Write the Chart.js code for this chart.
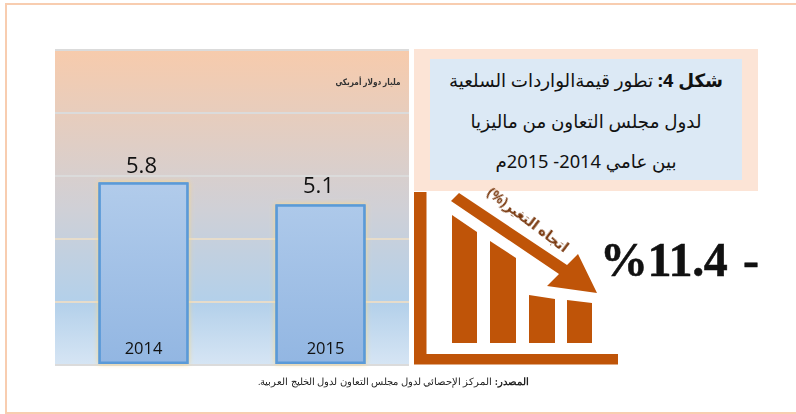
<!DOCTYPE html>
<html lang="ar"><head><meta charset="utf-8">
<style>
html,body{margin:0;padding:0;background:#fff;width:796px;height:414px;overflow:hidden}
#frame{position:absolute;left:5px;top:3px;right:0;height:407px;border-left:2px solid #f8cdb0;border-top:2px solid #f8cdb0;border-bottom:2px solid #f8cdb0}
#wrap{position:absolute;left:0;top:0;width:796px;height:414px}
#panel{position:absolute;left:414px;top:49px;width:344px;height:142px;background:#fce4d6}
#inner{position:absolute;left:430px;top:59px;width:312px;height:121px;background:#dce9f5;color:#111;
 font-family:"Noto Sans","Open Sans","DejaVu Sans",sans-serif;font-size:18.3px;direction:rtl;text-align:center}
#inner div{position:absolute;left:0;right:0;line-height:26px;white-space:nowrap}
#pct{position:absolute;left:600px;top:232px;width:170px;direction:ltr;white-space:pre;font-family:"Liberation Serif",serif;font-weight:bold;font-size:48px;line-height:56px;color:#111;word-spacing:4px;letter-spacing:-.4px;-webkit-text-stroke:.5px #111}
#src{position:absolute;left:200px;width:329px;top:376px;text-align:right;direction:rtl;font-family:"Liberation Serif","Noto Sans",serif;font-size:9.7px;color:#222;white-space:nowrap}
svg{position:absolute;left:0;top:0}
</style></head><body>
<div id="wrap"><canvas id="c" width="796" height="414" style="width:796px;height:414px;display:block"></canvas></div>
<div id="frame"></div>
<div id="panel"></div>
<div id="inner">
 <div style="top:8px"><b>شكل 4:</b> تطور قيمةالواردات السلعية</div>
 <div style="top:49px">لدول مجلس التعاون من ماليزيا</div>
 <div style="top:89px">بين عامي 2014- 2015م</div>
</div>
<svg width="796" height="414" viewBox="0 0 796 414">
 <g fill="#bf5408">
  <path d="M414 192H426.500V354H618V364.500H414Z"/>
  <path d="M452 215L477 232V343H452Z"/>
  <path d="M490 241L516 258V343H490Z"/>
  <path d="M529 295L555 299V343H529Z"/>
  <path d="M567 300L592 303V343H567Z"/>
  <path d="M459 193L451 201L559 274L547 286L597 293L578 254L567 265Z"/>
 </g>
 <text transform="translate(564,253) rotate(37)" text-anchor="start" direction="rtl" font-family="Noto Sans,DejaVu Sans,sans-serif" font-size="14" font-weight="bold" fill="#7a3a10">اتجاه التغير(%)</text>
</svg>
<div id="pct">%11.4 -</div>
<div id="src"><b>المصدر:</b> المركز الإحصائي لدول مجلس التعاون لدول الخليج العربية.</div>
<script src="https://cdn.jsdelivr.net/npm/chart.js@4"></script>
<script>
const categories=["2014","2015"];
const seriesValues=[5.8,5.1];
const tickValues=[0,2,4,6,8,10];
const unitLabel="مليار دولار أمريكي";

const deco={id:'deco',
 beforeDraw(ch){const {ctx,chartArea:a}=ch;
  const g=ctx.createLinearGradient(0,a.top,0,a.bottom);
  g.addColorStop(0,'#f7cbac');g.addColorStop(.5,'#d0d0d6');g.addColorStop(.8,'#b3d0ea');g.addColorStop(1,'#d6e5f4');
  ctx.fillStyle=g;ctx.fillRect(a.left,a.top,a.right-a.left,a.bottom-a.top);},
 beforeDatasetDraw(ch){const c=ch.ctx;c.save();c.shadowColor='rgba(255,215,120,.8)';c.shadowBlur=5;c.fillStyle='#5a9ad8';
  ch.getDatasetMeta(0).data.forEach(b=>{const w=b.width;c.fillRect(b.x-w/2,b.y,w,b.base-b.y);});c.restore();},
 afterDatasetsDraw(ch){const {ctx,chartArea:a}=ch;const m=ch.getDatasetMeta(0).data;
  ctx.save();ctx.textAlign='center';ctx.textBaseline='middle';ctx.fillStyle='#111';
  ctx.font='16.5px "Open Sans","Noto Sans",sans-serif';
  ctx.fillText(categories[0],m[0].x,a.bottom-16);
  ctx.fillText(categories[1],m[1].x+5,a.bottom-16);
  ctx.font='22px "Open Sans","Noto Sans",sans-serif';
  ctx.fillText(seriesValues[0].toFixed(1),m[0].x-2,m[0].y-16);
  ctx.fillText(seriesValues[1].toFixed(1),m[1].x-2,m[1].y-18);
  ctx.translate(368,82);ctx.scale(.83,1);
  ctx.font='bold 8.8px "Noto Sans","DejaVu Sans",sans-serif';ctx.fillStyle='#333';ctx.direction='rtl';
  ctx.fillText(unitLabel,0,0);
  ctx.restore();}};
new Chart(document.getElementById('c'),{type:'bar',
 data:{labels:categories,datasets:[{data:seriesValues,
  backgroundColor(ctx){const a=ctx.chart.chartArea;if(!a)return '#a8c4e6';
   const g=ctx.chart.ctx.createLinearGradient(0,a.top+130,0,a.bottom);g.addColorStop(0,'#b2cceb');g.addColorStop(1,'#92b6e2');return g;},
  borderColor:'#5a9ad8',borderWidth:2.5,borderSkipped:false,barPercentage:.51,categoryPercentage:1}]},
 options:{responsive:false,animation:false,
  layout:{padding:{left:55,top:50,right:387,bottom:49}},
  plugins:{legend:{display:false},tooltip:{enabled:false}},
  scales:{x:{display:false},
   y:{min:tickValues[0],max:tickValues[tickValues.length-1],
      afterBuildTicks(ax){ax.ticks=tickValues.map(v=>({value:v}));},
      ticks:{display:false},border:{display:false},
      grid:{color:c=>(c.tick.value===2||c.tick.value===4)?'#e6dccb':'#dbdbdb',lineWidth:2,drawTicks:false}}}},
 plugins:[deco]});
</script>
</body></html>
